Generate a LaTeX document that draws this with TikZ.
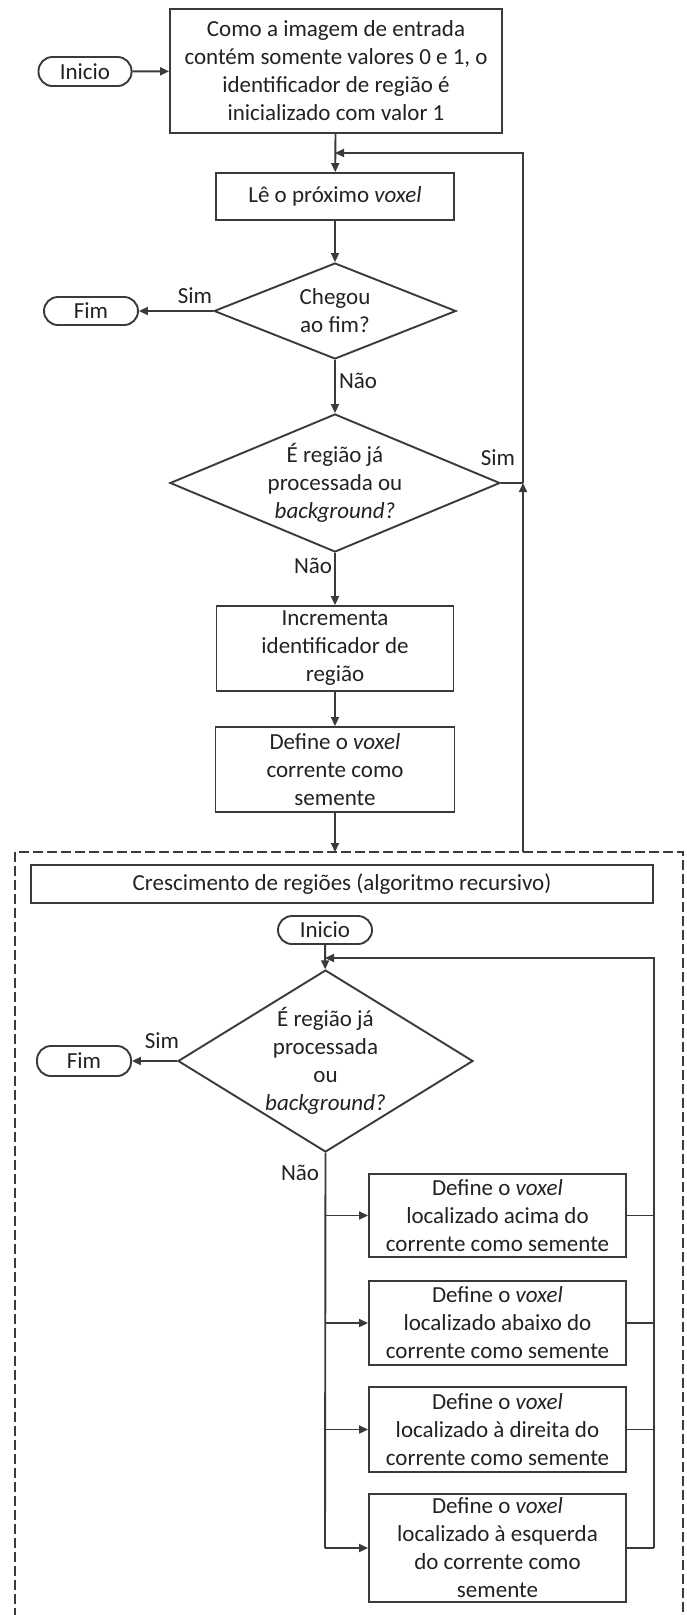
\documentclass[tikz,border=0pt]{standalone}
\usepackage{fontspec}
\setmainfont{Carlito}
\usetikzlibrary{arrows.meta,shapes.geometric}
\definecolor{ln}{HTML}{3A3A3A}
\definecolor{tx}{HTML}{222222}
\begin{document}
\begin{tikzpicture}[x=1pt,y=-1pt,
  every node/.style={font=\fontsize{23}{28}\selectfont, text=tx},
  proc/.style={draw=ln, line width=1.9pt, rectangle, align=center, inner sep=0pt},
  term/.style={draw=ln, line width=1.9pt, rectangle, rounded corners=14pt, minimum width=93pt, minimum height=29pt, inner sep=0pt},
  dec/.style={draw=ln, line width=1.9pt, diamond, align=center, inner sep=0pt},
  lbl/.style={inner sep=1pt},
  conn/.style={draw=ln, line width=1.9pt},
  arr/.style={conn, -{Triangle[length=9pt,width=8pt]}},
  sub/.style={draw=ln, line width=1.6pt, dash pattern=on 10pt off 4pt}
]
\clip (0,0) rectangle (686,1615);
\fill[white] (0,0) rectangle (686,1615);

% top section
\node[term] (ini) at (85,71.5) {Inicio};
\node[proc, minimum width=332pt, minimum height=124pt] (init) at (336,71) {Como a imagem de entrada\\contém somente valores 0 e 1, o\\identificador de região é\\inicializado com valor 1};
\node[proc, minimum width=238pt, minimum height=47pt] (le) at (335,196.5) {Lê o próximo \textit{voxel}};
\node[dec, minimum width=242pt, minimum height=96pt, aspect=2.5] (d1) at (335,311) {Chegou\\ao fim?};
\node[term, minimum width=94pt, minimum height=28pt] (fim1) at (91,311) {Fim};
\node[dec, minimum width=330pt, minimum height=138pt, aspect=2.4] (d2) at (335,483) {É região já\\processada ou\\\textit{background?}};
\node[proc, minimum width=237pt, minimum height=85pt] (inc) at (335,648.5) {Incrementa\\identificador de\\região};
\node[proc, minimum width=239pt, minimum height=85pt] (def) at (335,769.5) {Define o \textit{voxel}\\corrente como\\semente};

% subprocess frame
\draw[sub] (15,852) rectangle (683,1640);
\coordinate (subin) at (335,852);
\coordinate (subout) at (523,852);
\coordinate (j1) at (523,483);
\coordinate (j0) at (523,153);
\coordinate (m0) at (335,153);

\draw[arr] (ini) -- (init);
\draw[arr] (init) -- (le);
\draw[arr] (le) -- (d1);
\draw[arr] (d1) -- (fim1);
\draw[arr] (d1) -- (d2);
\draw[arr] (d2) -- (inc);
\draw[arr] (inc) -- (def);
\draw[arr] (def) -- (subin);
\draw[conn] (d2.east) -- (j1);
\draw[arr] (subout) -- (j1);
\draw[arr] (j1) -- (j0) -- (m0);

\node[lbl] (s1) at (195,296) {Sim};
\node[lbl] (n1) at (358,381) {Não};
\node[lbl] (s2) at (498,458) {Sim};
\node[lbl] (n2) at (313,566) {Não};

% subprocess
\node[proc, minimum width=622pt, minimum height=38pt] (hdr) at (342,884) {Crescimento de regiões (algoritmo recursivo)};
\node[term, minimum width=94pt, minimum height=28pt] (ini2) at (325,930) {Inicio};
\node[dec, minimum width=295pt, minimum height=182pt, aspect=1.62] (d3) at (325.5,1061) {É região já\\processada\\ou\\\textit{background?}};
\node[term, minimum width=94pt, minimum height=30pt] (fim2) at (84,1061) {Fim};

\node[proc, minimum width=257pt, minimum height=83pt] (ba) at (497.5,1215.5) {Define o \textit{voxel}\\localizado acima do\\corrente como semente};
\node[proc, minimum width=257pt, minimum height=84pt] (bb) at (497.5,1323) {Define o \textit{voxel}\\localizado abaixo do\\corrente como semente};
\node[proc, minimum width=257pt, minimum height=85pt] (bc) at (497.5,1429.5) {Define o \textit{voxel}\\localizado à direita do\\corrente como semente};
\node[proc, minimum width=257pt, minimum height=108pt] (bd) at (497.5,1548) {Define o \textit{voxel}\\localizado à esquerda\\do corrente como\\semente};

\coordinate (tA) at (325,1215.5);
\coordinate (tB) at (325,1323);
\coordinate (tC) at (325,1429.5);
\coordinate (tD) at (325,1548);
\coordinate (rA) at (654,1215.5);
\coordinate (rB) at (654,1323);
\coordinate (rC) at (654,1429.5);
\coordinate (rD) at (654,1548);
\coordinate (rT) at (654,958);
\coordinate (mT) at (325,958);

\draw[arr] (ini2) -- (d3);
\draw[arr] (d3) -- (fim2);
\draw[conn] (d3.south) -- (tD);
\draw[arr] (tA) -- (ba);
\draw[arr] (tB) -- (bb);
\draw[arr] (tC) -- (bc);
\draw[arr] (tD) -- (bd);
\draw[conn] (ba.east) -- (rA);
\draw[conn] (bb.east) -- (rB);
\draw[conn] (bc.east) -- (rC);
\draw[conn] (bd.east) -- (rD);
\draw[arr] (rD) -- (rT) -- (mT);

\node[lbl] (s3) at (162,1041) {Sim};
\node[lbl] (n3) at (300,1173) {Não};
\end{tikzpicture}
\end{document}
